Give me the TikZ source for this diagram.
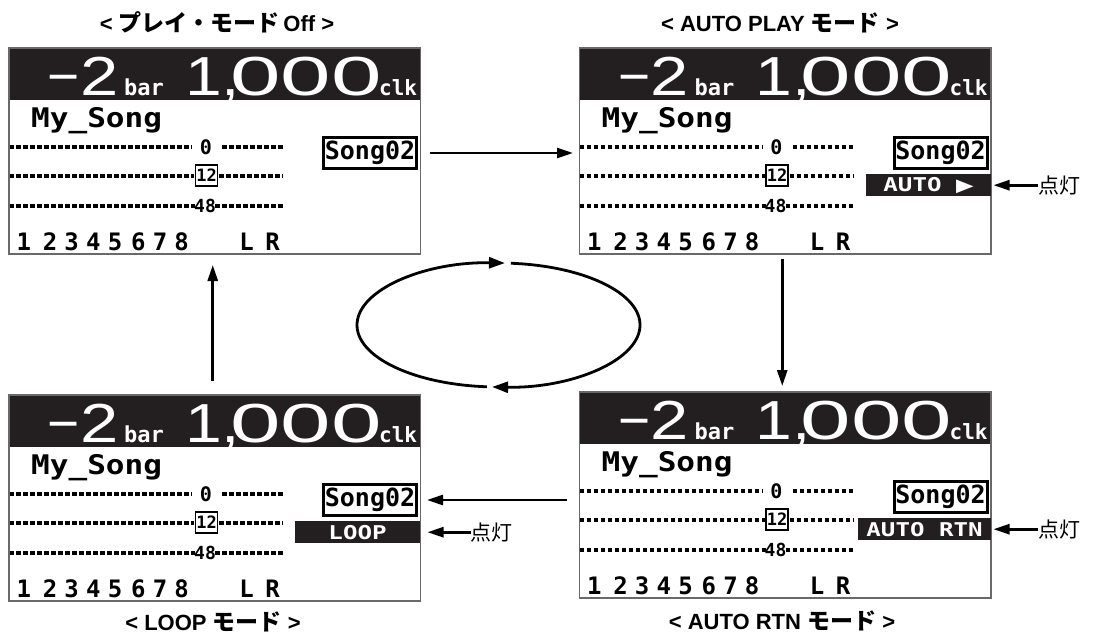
\documentclass[tikz,border=0pt]{standalone}
\usepackage{fontspec}
\usepackage{graphicx}
\setmainfont{Liberation Sans}
\newfontfamily\jpfont{Noto Sans CJK JP}
\newfontfamily\lcdfont{DejaVu Sans Mono}
\newfontfamily\symfont{DejaVu Sans}
\usetikzlibrary{arrows.meta}
\definecolor{lcdblack}{RGB}{35,31,32}
\definecolor{framegray}{RGB}{105,105,105}
\newcommand\jpt[1]{{\jpfont\bfseries\fontsize{23}{23}\selectfont #1}}
\newcommand\lcdsz[1]{\lcdfont\bfseries\fontsize{#1}{#1}\selectfont}
\newcommand\bigdig[2]{\scalebox{#1}[1]{\fontsize{55}{55}\selectfont #2}}

\tikzset{
 arr/.style={line width=2.6pt, -{Triangle[length=16pt,width=10pt]}},
 scr/.style={draw=framegray, line width=1.3pt, minimum width=411.5pt, minimum height=206pt, inner sep=0pt, outer sep=0pt},
 meter/.style={line width=3.2pt, dash pattern=on 4.5pt off 2.5pt},
 lcdtxt/.style={inner sep=0pt},
 whitetxt/.style={anchor=base west, text=white, inner sep=0pt},
 songbox/.style={draw=black, line width=3pt, minimum width=93pt, minimum height=31pt, inner sep=0pt, font=\lcdsz{25}},
 bandlabel/.style={fill=lcdblack, text=white, inner sep=0pt, minimum height=22pt, anchor=north east, font=\lcdsz{19}},
 ttl/.style={font=\bfseries\fontsize{22}{22}\selectfont, inner sep=0pt},
 lit/.style={font=\jpfont\fontsize{21}{21}\selectfont, inner sep=0pt, anchor=west},
}

\newcommand\lcdscreen[3]{%
\begin{scope}[shift={(#2,#3)}]
\fill[lcdblack] (0,0) rectangle (411.5,52);
\node[anchor=base east, text=white, inner sep=0pt] (#1mi) at (71,47) {\bigdig{1.0}{−}};
\node[whitetxt] (#1two) at (71,47) {\bigdig{1.25}{2}};
\node[whitetxt] (#1bar) at (115,47) {\lcdsz{22}bar};
\node[whitetxt] (#1one) at (176,47) {\bigdig{1.2}{1,}};
\node[whitetxt] (#1zero) at (221,47) {\bigdig{1.65}{000}};
\node[whitetxt] (#1clk) at (370,47) {\lcdsz{21}clk};
\node[anchor=base west, inner sep=0pt] (#1name) at (22,79) {\scalebox{1.15}[1]{\lcdsz{27}My\_Song}};
\draw[meter] (0,99) -- (183,99) (213,99) -- (274,99);
\draw[meter] (0,128) -- (185,128) (210,128) -- (274,128);
\draw[meter] (0,158) -- (186,158) (206,158) -- (274,158);
\node[lcdtxt, font=\lcdsz{20}] (#1m0) at (197,99) {0};
\node[draw, line width=1.8pt, minimum width=22pt, minimum height=21pt, inner sep=0pt, font=\lcdsz{17}] (#1m12) at (197.5,127.5) {12};
\node[lcdtxt, font=\lcdsz{18}] (#1m48) at (196,158) {48};
\foreach \c/\x in {1/14.8,2/41,3/62.7,4/84.3,5/106,6/129.3,7/151,8/172.7,L/237.7,R/263.5}
  \node[lcdtxt, font=\lcdsz{24}] (#1ch\c) at (\x,193.5) {\c};
\node[songbox] (#1song) at (361,105) {Song02};
\node[scr, anchor=north west] (#1) at (0,0) {};
\end{scope}}

\begin{document}
\begin{tikzpicture}[x=1pt,y=-1pt]
\useasboundingbox (0,0) rectangle (1095,637);

\lcdscreen{s1}{9}{48}
\lcdscreen{s2}{579.5}{48}
\lcdscreen{s3}{9}{395}
\lcdscreen{s4}{579.5}{392}

% mode bands
\node[bandlabel, minimum width=124.5pt] (b2) at ([yshift=-126pt]s2.north east)
  {\scalebox{1.27}[1]{AUTO {\symfont\fontsize{18}{18}\selectfont ▶}}};
\node[bandlabel, minimum width=125.5pt] (b3) at ([yshift=-126pt]s3.north east)
  {\scalebox{1.27}[1]{LOOP}};
\node[bandlabel, minimum width=132.5pt] (b4) at ([yshift=-126pt]s4.north east)
  {\scalebox{1.27}[1]{AUTO RTN}};

% lit labels
\node[lit] (l2) at ([xshift=47pt]b2.east) {点灯};
\node[lit] (l3) at ([xshift=50pt]b3.east) {点灯};
\node[lit] (l4) at ([xshift=47pt]b4.east) {点灯};
\draw[arr, shorten >=2.5pt] (l2.west) -- (b2.east);
\draw[arr, shorten >=7pt] (l3.west) -- (b3.east);
\draw[arr, shorten >=2.5pt] (l4.west) -- (b4.east);

% titles
\node[ttl] (tt1) at (217,22.5) {< \jpt{プレイ・モード}\,Off >};
\node[ttl] (tt2) at (780,22.5) {< AUTO PLAY \jpt{モード} >};
\node[ttl] (tt3) at (213,622) {< LOOP \jpt{モード} >};
\node[ttl] (tt4) at (782,621) {< AUTO RTN \jpt{モード} >};

% transition arrows
\draw[arr, shorten <=12pt, shorten >=6.5pt] (s1song.east) -- (s2.west |- s1song.east);
\draw[arr, shorten <=5pt, shorten >=6pt] ([xshift=-3pt]s2.south) -- ([xshift=-3pt]s2.south |- s4.north);
\draw[arr, shorten <=13pt, shorten >=9pt] (s4.west |- s3song.east) -- (s3song.east);
\draw[arr, shorten <=14pt, shorten >=11pt] ([xshift=-2pt]s3.north) -- ([xshift=-2pt]s3.north |- s1.south);

% cycle ellipse
\draw[line width=2.8pt, -{Triangle[length=16pt,width=11pt]}]
  (498.5,325) ++(85:141.5pt and 62pt) arc[start angle=85, end angle=-92.6, x radius=141.5pt, y radius=62pt];
\draw[line width=2.8pt, -{Triangle[length=16pt,width=11pt]}]
  (498.5,325) ++(-94.7:141.5pt and 62pt) arc[start angle=-94.7, end angle=-272.6, x radius=141.5pt, y radius=62pt];
\end{tikzpicture}
\end{document}
